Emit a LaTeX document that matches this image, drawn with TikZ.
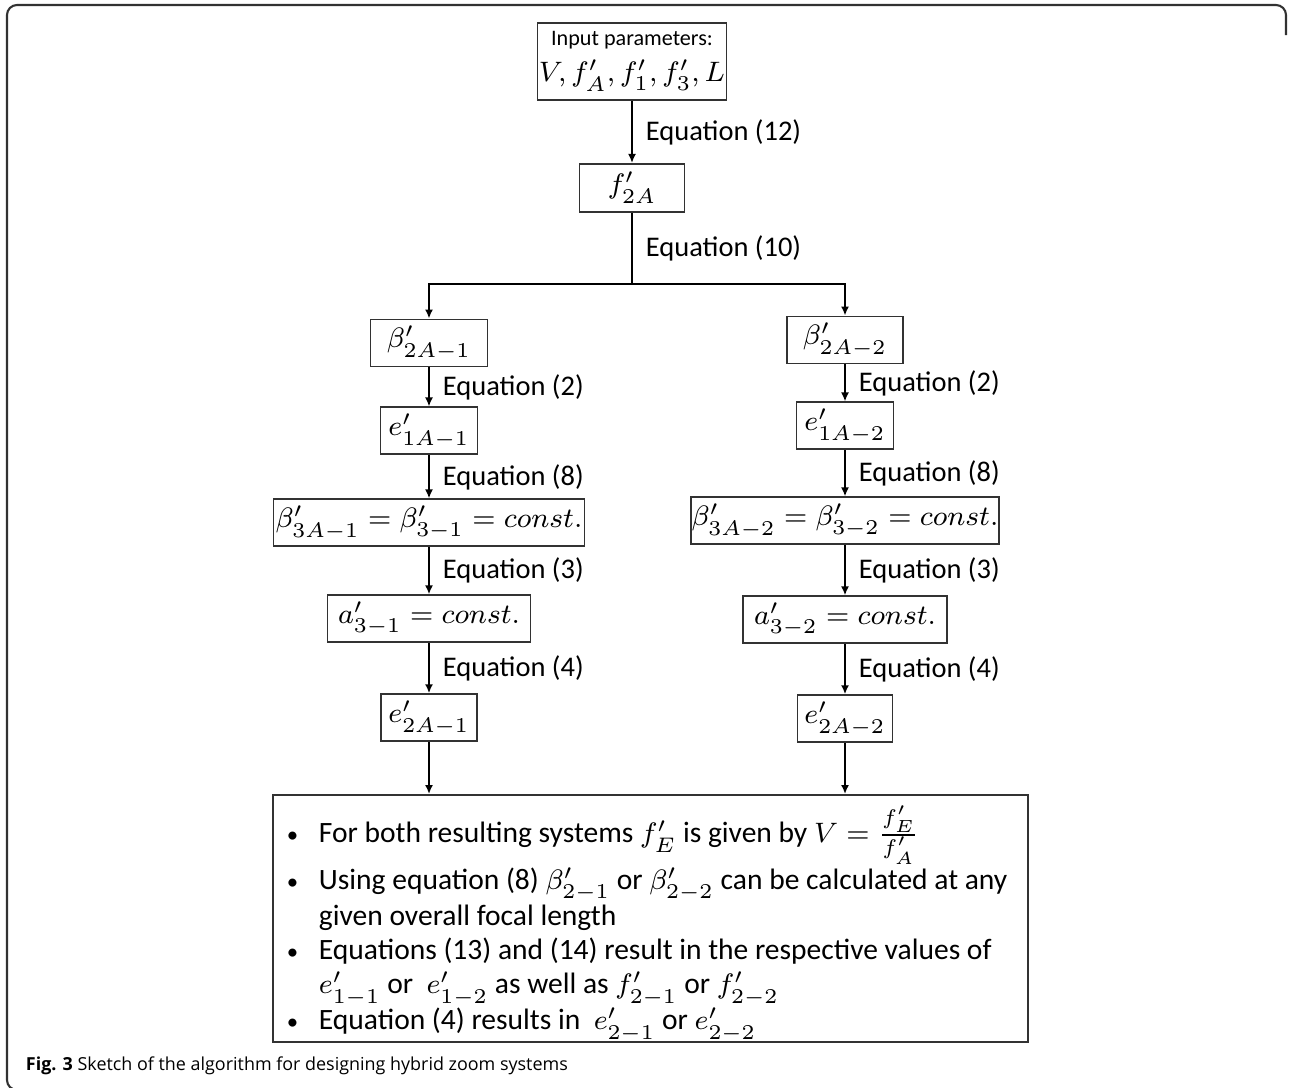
\documentclass[tikz,border=0pt]{standalone}
\usepackage{fontspec}
\setmainfont{Carlito}
\newfontfamily\capfont{Open Sans}
\usetikzlibrary{arrows.meta,positioning}
\definecolor{boxgray}{RGB}{50,50,50}
\newcommand{\dotitem}{{\fontsize{6.5}{7}\selectfont\textbullet}}

\begin{document}
\begin{tikzpicture}[>={Latex[length=0.9mm,width=0.8mm]},line width=0.55pt,node distance=0.45cm]
\tikzstyle{blk}=[draw=boxgray,inner sep=0pt,align=center,minimum height=0.47cm,font=\fontsize{8.4}{10}\selectfont]
\tikzstyle{eqn}=[font=\fontsize{8.1}{10}\selectfont,inner sep=0pt,right=0.13cm]
\useasboundingbox (0,0) rectangle (12.9,-10.87);
% frame of the figure
\draw[boxgray,line width=0.6pt,rounded corners=0.1cm] (0.16,-10.9) -- (0.07,-10.9) -- (0.07,-0.05) -- (12.86,-0.05) -- (12.86,-0.35);
\node[blk,minimum width=1.89cm,minimum height=0.77cm] (inp) at (6.32,-0.615) {{\fontsize{6.3}{7}\selectfont Input parameters:}\\$V, f'_A, f'_1, f'_3, L$};
\node[blk,minimum width=1.05cm,minimum height=0.48cm,below=0.62cm of inp] (f2a) {$f'_{2A}$};
\coordinate[below=0.71cm of f2a] (split);
% left branch
\node[blk,minimum width=1.17cm] (b2l) at (4.29,-3.43) {$\beta'_{2A-1}$};
\node[blk,minimum width=0.97cm,below=0.39cm of b2l] (e1l) {$e'_{1A-1}$};
\node[blk,minimum width=3.11cm,below=0.43cm of e1l] (b3l) {$\beta'_{3A-1}=\beta'_{3-1}=const.$};
\node[blk,minimum width=2.03cm,below=0.47cm of b3l] (a3l) {$a'_{3-1}=const.$};
\node[blk,minimum width=0.96cm,below=0.50cm of a3l] (e2l) {$e'_{2A-1}$};
% right branch
\node[blk,minimum width=1.16cm] (b2r) at (8.45,-3.40) {$\beta'_{2A-2}$};
\node[blk,minimum width=0.97cm,below=0.37cm of b2r] (e1r) {$e'_{1A-2}$};
\node[blk,minimum width=3.08cm,below=0.46cm of e1r] (b3r) {$\beta'_{3A-2}=\beta'_{3-2}=const.$};
\node[blk,minimum width=2.04cm,below=0.50cm of b3r] (a3r) {$a'_{3-2}=const.$};
\node[blk,minimum width=0.95cm,below=0.50cm of a3r] (e2r) {$e'_{2A-2}$};
% results
\node[draw=boxgray,inner sep=0pt,minimum width=7.55cm,minimum height=2.47cm] (res) at (6.505,-9.185) {};
\node[anchor=base west,inner sep=0pt,font=\fontsize{8.4}{9.7}\selectfont] (items) at (2.86,-8.42) {%
\begin{tabular}[t]{@{}p{0.32cm}@{}l@{}}
\dotitem & For both resulting systems $f'_E$ is given by $V=\frac{f'_E}{f'_A}$ \\[3.8pt]
\dotitem & Using equation (8) $\beta'_{2-1}$ or $\beta'_{2-2}$ can be calculated at any \\
 & given overall focal length \\
\dotitem & Equations (13) and (14) result in the respective values of \\
 & $e'_{1-1}$ or \ $e'_{1-2}$ as well as $f'_{2-1}$ or $f'_{2-2}$ \\
\dotitem & Equation (4) results in \ $e'_{2-1}$ or $e'_{2-2}$
\end{tabular}};
\node[anchor=base west,inner sep=0pt,font=\capfont\fontsize{5.1}{6}\selectfont] (cap) at (0.25,-10.70) {\textbf{Fig. 3} Sketch of the algorithm for designing hybrid zoom systems};
% connectors
\draw[->] (inp) -- node[eqn]{Equation (12)} (f2a);
\draw (f2a) -- node[eqn]{Equation (10)} (split);
\draw[->] (split) -| (b2l);
\draw[->] (split) -| (b2r);
\draw[->] (b2l) -- node[eqn]{Equation (2)} (e1l);
\draw[->] (e1l) -- node[eqn]{Equation (8)} (b3l);
\draw[->] (b3l) -- node[eqn]{Equation (3)} (a3l);
\draw[->] (a3l) -- node[eqn]{Equation (4)} (e2l);
\draw[->] (b2r) -- node[eqn]{Equation (2)} (e1r);
\draw[->] (e1r) -- node[eqn]{Equation (8)} (b3r);
\draw[->] (b3r) -- node[eqn]{Equation (3)} (a3r);
\draw[->] (a3r) -- node[eqn]{Equation (4)} (e2r);
\draw[->] (e2l) -- (e2l |- res.north);
\draw[->] (e2r) -- (e2r |- res.north);
\end{tikzpicture}
\end{document}
